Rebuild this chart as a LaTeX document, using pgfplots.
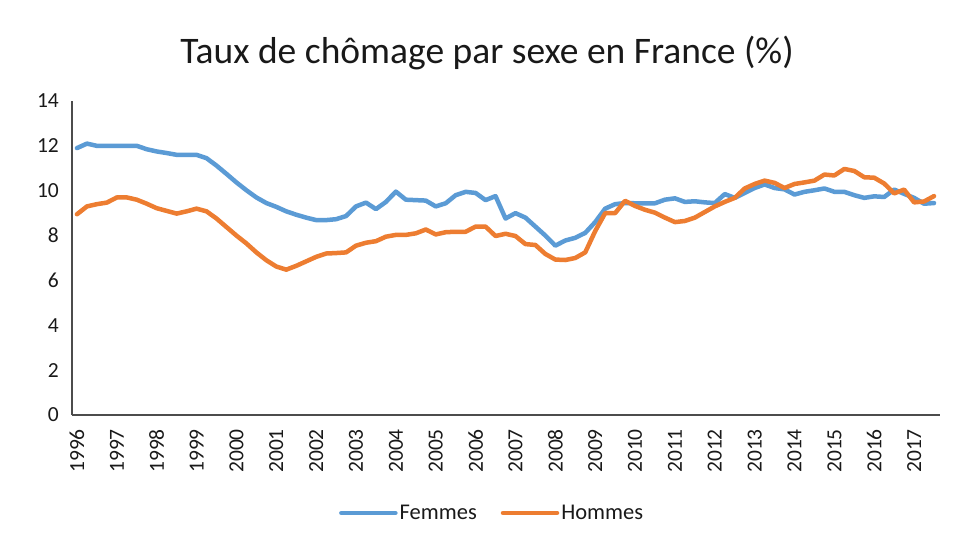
\documentclass[border=0pt]{standalone}
\usepackage{pgfplots}
\pgfplotsset{compat=1.18}
\usepackage{fontspec}
\setmainfont{Carlito}
\definecolor{cblue}{HTML}{5B9BD5}
\definecolor{corange}{HTML}{ED7D31}
\begin{document}
\begin{tikzpicture}
\path[use as bounding box] (0,0) rectangle (955bp,542bp);
\node[font=\fontsize{37.5bp}{40bp}\selectfont, anchor=base, text=black!90] at (487bp,478bp) {Taux de chômage par sexe en France (\%)};
\begin{axis}[
  at={(72bp,127bp)}, anchor=south west,
  width=868bp, height=314bp, scale only axis,
  xmin=-0.5, xmax=86.6, ymin=0, ymax=14,
  ytick={0,2,...,14},
  xtick={0,4,...,84},
  xticklabels={1996,1997,1998,1999,2000,2001,2002,2003,2004,2005,2006,2007,2008,2009,2010,2011,2012,2013,2014,2015,2016,2017},
  major tick length=0pt,
  axis x line*=bottom, axis y line*=left,
  axis line style={-, draw=black!70, line width=1.2bp},
  /pgf/number format/assume math mode=true,
  tick label style={font=\fontsize{21.5bp}{23bp}\selectfont, text=black!90},
  yticklabel style={anchor=east, inner sep=0pt},
  yticklabel shift=13bp,
  xticklabel style={rotate=90, anchor=east, inner sep=0pt},
  xticklabel shift=14bp,
  legend columns=2,
  legend style={at={(0.484,-0.312)}, anchor=center, draw=none, fill=none,
    font=\fontsize{22.5bp}{24bp}\selectfont, text=black!90,
    /tikz/every even column/.append style={column sep=22bp}},
  legend image code/.code={\draw[#1, line width=4.5bp, line cap=round] (0bp,0bp) -- (54bp,0bp);},
  every axis plot/.append style={line width=4.5bp, line join=round, line cap=round, mark=none},
]
\addplot[cblue] table[x expr=\coordindex, y index=0] {
11.9
12.1
12.0
12.0
12.0
12.0
12.0
11.85
11.75
11.68
11.6
11.6
11.6
11.45
11.12
10.75
10.37
10.02
9.7
9.45
9.28
9.08
8.93
8.8
8.69
8.69
8.73
8.87
9.3
9.47
9.18
9.5
9.96
9.6
9.58
9.56
9.3
9.44
9.8
9.95
9.9
9.58
9.76
8.76
9.0
8.8
8.4
8.0
7.55
7.78
7.9
8.12
8.6
9.2
9.4
9.45
9.44
9.44
9.44
9.6
9.66
9.5
9.53
9.48
9.45
9.85
9.68
9.9
10.12
10.28
10.12
10.06
9.83
9.95
10.02
10.1
9.95
9.95
9.8
9.68
9.75
9.72
10.05
9.86
9.68
9.42
9.45
};
\addlegendentry{Femmes}
\addplot[corange] table[x expr=\coordindex, y index=0] {
8.95
9.3
9.4
9.47
9.7
9.7
9.6
9.42
9.22
9.1
8.98
9.08
9.2
9.08
8.76
8.38
8.0
7.65
7.25
6.9
6.62
6.48
6.65
6.85
7.05
7.2
7.22
7.25
7.55
7.68
7.75
7.95
8.03
8.03
8.1
8.27
8.05
8.15
8.17
8.17
8.4
8.4
7.98
8.08
7.98
7.62
7.58
7.18
6.93
6.91
7.0
7.25
8.2
9.0
9.0
9.55
9.32
9.15
9.02
8.8
8.6
8.65
8.8
9.05
9.3
9.5
9.68
10.1
10.3
10.45
10.35
10.12
10.3
10.37
10.45
10.72
10.68
10.97
10.88
10.6
10.58
10.32
9.88
10.05
9.48
9.52
9.76
};
\addlegendentry{Hommes}
\end{axis}
\end{tikzpicture}
\end{document}
